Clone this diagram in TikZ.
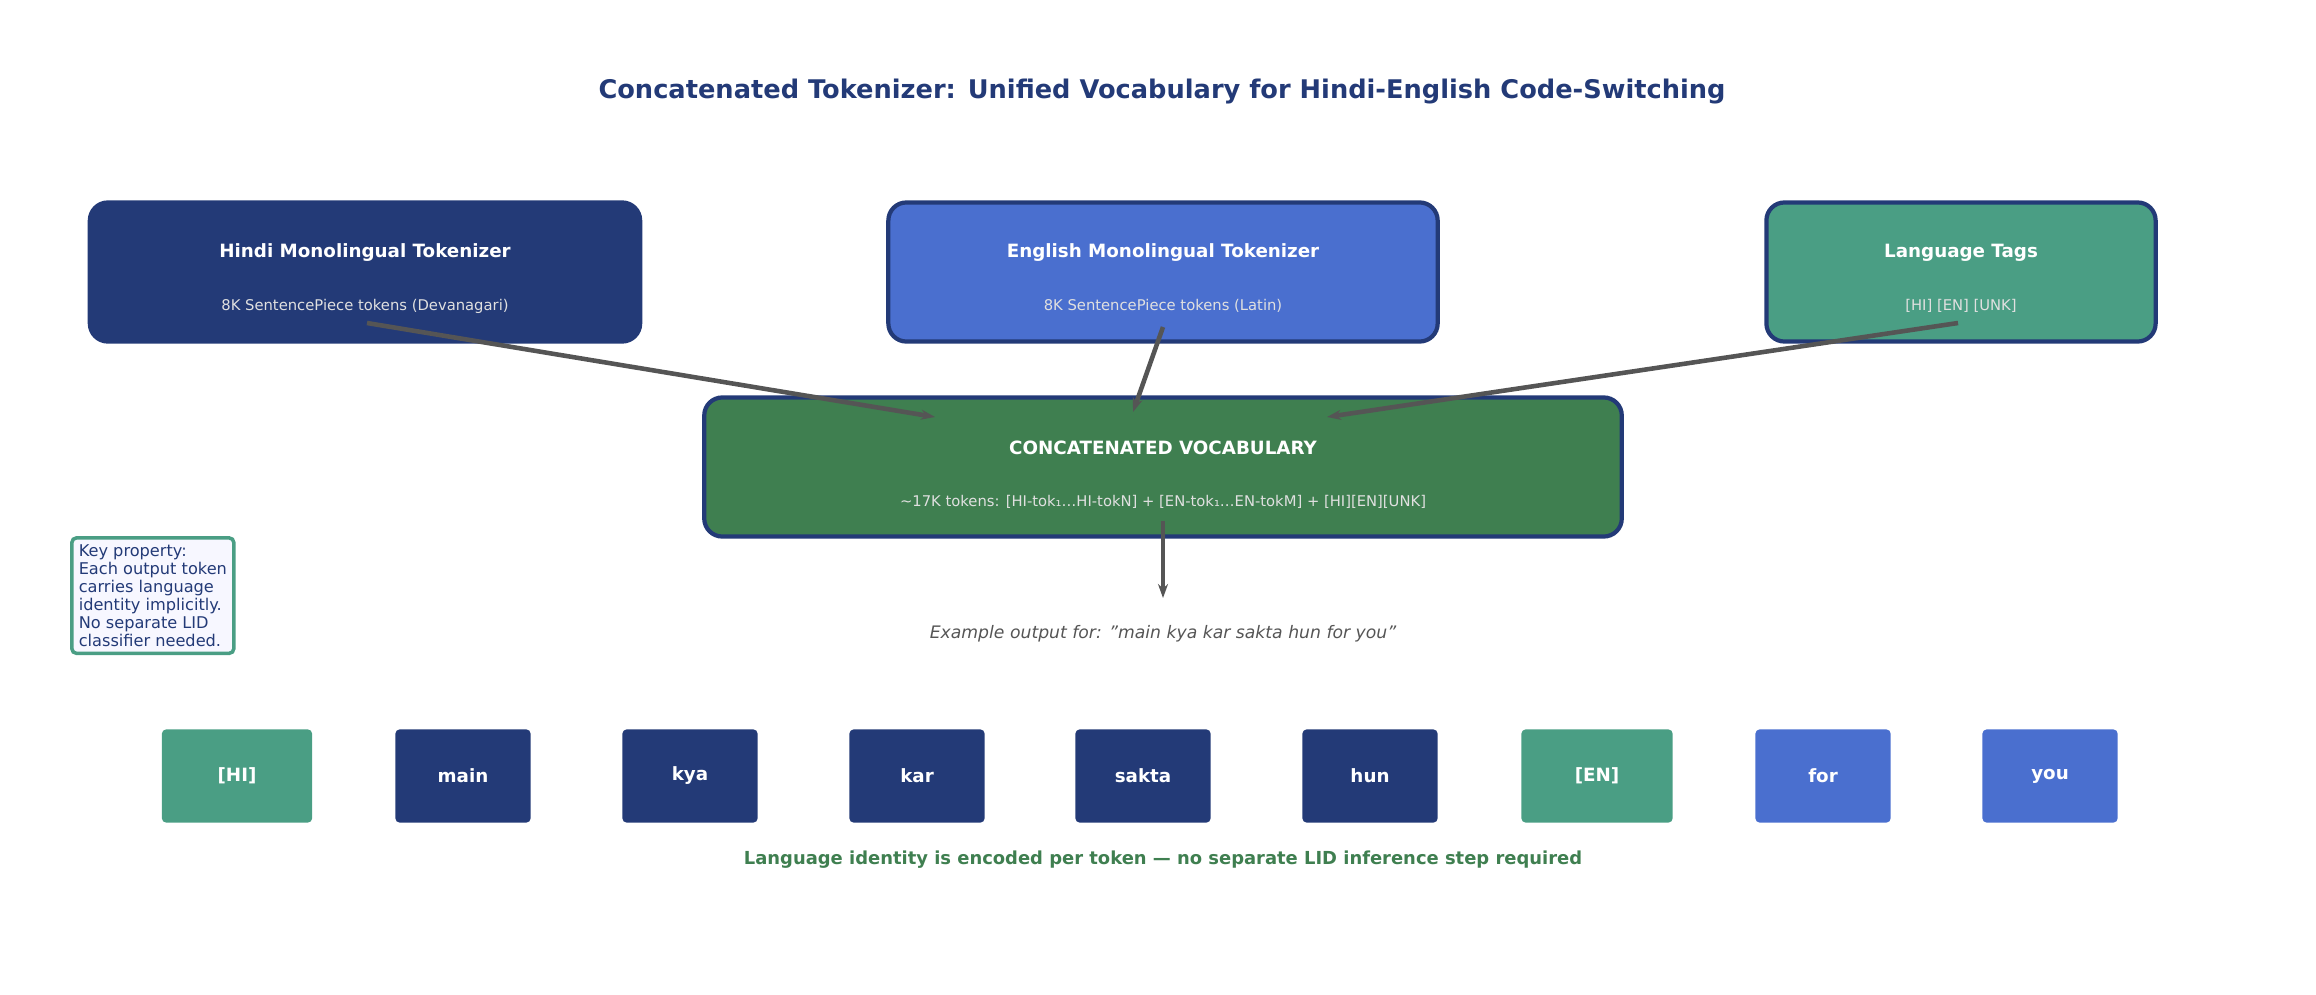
\documentclass[tikz,border=0pt]{standalone}
\usepackage{fontspec}
\setmainfont{DejaVu Sans}
\usetikzlibrary{arrows.meta}
\definecolor{navy}{HTML}{233A77}
\definecolor{blu}{HTML}{4A6FCF}
\definecolor{teal}{HTML}{4A9E84}
\definecolor{grn}{HTML}{3F7F50}
\definecolor{gry}{HTML}{555555}
\begin{document}
\begin{tikzpicture}[x=0.01cm,y=-0.01cm,
  big/.style={rounded corners=0.18cm,draw=navy,line width=1.2pt,minimum height=1.39cm},
  tok/.style={rounded corners=0.04cm,minimum height=0.93cm,text=white,font=\fontsize{5.2}{6}\selectfont\bfseries},
  arr/.style={-{Stealth[length=0.14cm,width=0.1cm]},gry,line width=1.3pt},
  bt/.style={text=white,font=\fontsize{5.2}{6}\selectfont\bfseries},
  st/.style={text=white!88!black,font=\fontsize{4.2}{5}\selectfont}]
\useasboundingbox (0,0) rectangle (2316,994);
\node[text=navy,font=\fontsize{7.3}{8}\selectfont\bfseries] (title) at (1162,92) {Concatenated Tokenizer: Unified Vocabulary for Hindi-English Code-Switching};
\node[big,fill=navy,minimum width=5.5cm] (hi) at (365,272) {};
\node[bt] (hit) at (365,253) {Hindi Monolingual Tokenizer};
\node[st] (his) at (365,306) {8K SentencePiece tokens (Devanagari)};
\node[big,fill=blu,minimum width=5.49cm] (en) at (1163,272) {};
\node[bt] (ent) at (1163,253) {English Monolingual Tokenizer};
\node[st] (ens) at (1163,306) {8K SentencePiece tokens (Latin)};
\node[big,fill=teal,minimum width=3.89cm] (lt) at (1961,272) {};
\node[bt] (ltt) at (1961,253) {Language Tags};
\node[st] (lts) at (1961,306) {[HI] [EN] [UNK]};
\node[big,fill=grn,minimum width=9.17cm] (cv) at (1163,467) {};
\node[bt] (cvt) at (1163,448) {CONCATENATED VOCABULARY};
\node[st] (cvs) at (1163,502) {\textasciitilde17K tokens: [HI-tok₁…HI-tokN] + [EN-tok₁…EN-tokM] + [HI][EN][UNK]};
\coordinate (a1) at (367,323); \coordinate (b1) at (935,417);
\coordinate (a2) at (1163,327); \coordinate (b2) at (1133,412);
\coordinate (a3) at (1958,323); \coordinate (b3) at (1327,417);
\coordinate (a4) at (1163,521); \coordinate (b4) at (1163,598);
\draw[arr] (a1) -- (b1);
\draw[arr] (a2) -- (b2);
\draw[arr] (a3) -- (b3);
\draw[arr] (a4) -- (b4);
\node[draw=teal,fill=blue!3,line width=1pt,rounded corners=0.05cm,text=navy,align=left,
  font=\fontsize{4.6}{5.1}\selectfont,inner sep=0.07cm,anchor=north west] (kp) at (70,536)
  {Key property:\\Each output token\\carries language\\identity implicitly.\\No separate LID\\classifier needed.};
\node[text=gry,font=\fontsize{4.9}{6}\selectfont\itshape] (ex) at (1163,634) {Example output for: "main kya kar sakta hun for you"};
\node[tok,fill=teal,minimum width=1.5cm] (t1) at (237,776) {[HI]};
\node[tok,fill=navy,minimum width=1.35cm] (t2) at (463,776) {main};
\node[tok,fill=navy,minimum width=1.35cm] (t3) at (690,776) {kya};
\node[tok,fill=navy,minimum width=1.35cm] (t4) at (917,776) {kar};
\node[tok,fill=navy,minimum width=1.35cm] (t5) at (1143,776) {sakta};
\node[tok,fill=navy,minimum width=1.35cm] (t6) at (1370,776) {hun};
\node[tok,fill=teal,minimum width=1.51cm] (t7) at (1597,776) {[EN]};
\node[tok,fill=blu,minimum width=1.35cm] (t8) at (1823,776) {for};
\node[tok,fill=blu,minimum width=1.35cm] (t9) at (2050,776) {you};
\node[text=grn,font=\fontsize{5.1}{6}\selectfont\bfseries] (bot) at (1163,860) {Language identity is encoded per token — no separate LID inference step required};
\end{tikzpicture}
\end{document}
